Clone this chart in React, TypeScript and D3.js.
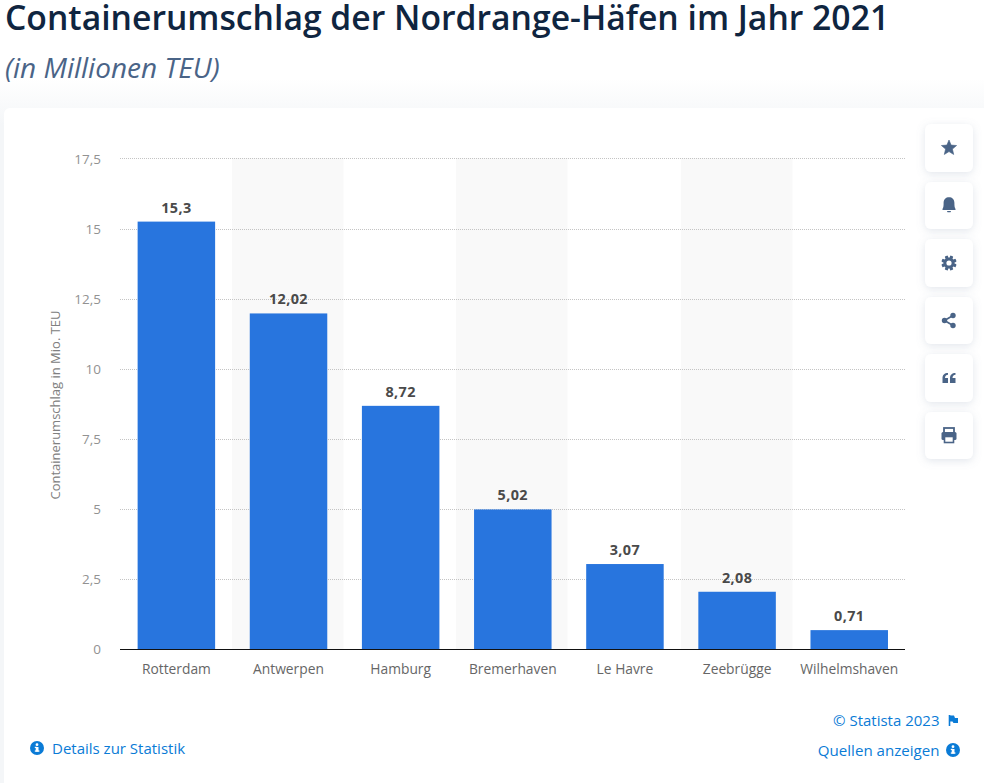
import React from "react";
import * as d3 from "d3";

const categories = ["Rotterdam", "Antwerpen", "Hamburg", "Bremerhaven", "Le Havre", "Zeebrügge", "Wilhelmshaven"];
const values = [15.3, 12.02, 8.72, 5.02, 3.07, 2.08, 0.71];
const valueLabels = ["15,3", "12,02", "8,72", "5,02", "3,07", "2,08", "0,71"];
const yTicks = [0, 2.5, 5, 7.5, 10, 12.5, 15, 17.5];
const yTickLabels = ["0", "2,5", "5", "7,5", "10", "12,5", "15", "17,5"];

const font = "'Open Sans', sans-serif";
const iconColor = "#4a6487";
const linkColor = "#0a7bd6";

const X0 = 120, X1 = 905, Y0 = 650, Y1 = 160;

function Info({ x, y }: { x: number; y: number }) {
  return (
    <g transform={`translate(${x},${y})`}>
      <circle r={7} fill={linkColor} />
      <rect x={-1.3} y={-1} width={2.8} height={4.6} fill="#fff" />
      <rect x={-2.2} y={2.4} width={4.6} height={1.3} fill="#fff" />
      <rect x={-2.2} y={-1.2} width={2} height={1.2} fill="#fff" />
      <circle cx={0} cy={-3.3} r={1.4} fill="#fff" />
    </g>
  );
}

const iconButtons = [
  { y: 124, h: 48 }, { y: 182, h: 47 }, { y: 239, h: 48 },
  { y: 297, h: 47 }, { y: 354, h: 48 }, { y: 412, h: 47 },
];

function Icon({ i }: { i: number }) {
  const f = iconColor;
  switch (i) {
    case 0: {
      const pts = d3.range(10).map((k) => {
        const r = k % 2 === 0 ? 8 : 3.6;
        const a = (k * Math.PI) / 5 - Math.PI / 2;
        return [r * Math.cos(a), r * Math.sin(a)].join(",");
      }).join(" ");
      return <polygon points={pts} fill={f} stroke={f} strokeWidth={0.6} strokeLinejoin="round" />;
    }
    case 1:
      return (
        <g fill={f} transform="translate(0,-1)">
          <path d="M-6.5,4.5 C-5.5,3 -5.4,1 -5.4,-1.5 C-5.4,-5.2 -3,-7.2 0,-7.2 C3,-7.2 5.4,-5.2 5.4,-1.5 C5.4,1 5.5,3 6.5,4.5 L6.5,5.6 L-6.5,5.6 Z" />
          <rect x={-2} y={6.4} width={4} height={1.4} rx={0.7} />
        </g>
      );
    case 2: {
      const teeth = d3.range(8).map((k) => (
        <rect key={k} x={-1.6} y={-7.6} width={3.2} height={3} rx={0.8} fill={f} transform={`rotate(${k * 45 + 22.5})`} />
      ));
      return (
        <g>
          {teeth}
          <circle r={4.1} fill="none" stroke={f} strokeWidth={3} />
        </g>
      );
    }
    case 3:
      return (
        <g fill={f} stroke={f}>
          <line x1={-4.5} y1={0} x2={4} y2={-5} strokeWidth={1.6} />
          <line x1={-4.5} y1={0} x2={4} y2={5} strokeWidth={1.6} />
          <circle cx={-4.5} cy={0} r={2.7} stroke="none" />
          <circle cx={4} cy={-5} r={2.7} stroke="none" />
          <circle cx={4} cy={5} r={2.7} stroke="none" />
        </g>
      );
    case 4:
      return (
        <g fill={f}>
          <path d="M-6.5,5 L-1,5 L-1,0 L-4,0 C-4,-2 -3,-3 -1,-3.2 L-1,-5 C-4.5,-5 -6.5,-3 -6.5,0 Z" />
          <path d="M1,5 L6.5,5 L6.5,0 L3.5,0 C3.5,-2 4.5,-3 6.5,-3.2 L6.5,-5 C3,-5 1,-3 1,0 Z" />
        </g>
      );
    default:
      return (
        <g>
          <rect x={-5} y={-7.5} width={10} height={5} fill="none" stroke={f} strokeWidth={1.8} />
          <rect x={-7.5} y={-3.5} width={15} height={8} rx={1.5} fill={f} />
          <rect x={-4.5} y={1} width={9} height={6} fill="#fff" stroke={f} strokeWidth={1.6} />
        </g>
      );
  }
}

export default function App() {
  const x = d3.scaleBand<string>().domain(categories).range([X0, X1]).paddingInner(0).paddingOuter(0);
  const y = d3.scaleLinear().domain([0, 17.5]).range([Y0, Y1]);
  const barW = 77.5;
  // gridlines sit on the half pixel above the value; the top one is one pixel higher in the reference
  const gridY = (t: number) => y(t) - 0.5 - (t === 17.5 ? 1 : 0);

  return (
    <svg width={984} height={783} style={{ position: "fixed", left: 0, top: 0 }} fontFamily={font}>
      <defs>
        <linearGradient id="pageBg" x1="0" y1="0" x2="0" y2="1">
          <stop offset="0" stopColor="#ffffff" />
          <stop offset="0.1" stopColor="#ffffff" />
          <stop offset="0.16" stopColor="#f4f6f8" />
          <stop offset="1" stopColor="#f4f6f8" />
        </linearGradient>
        <filter id="btnShadow" x="-30%" y="-30%" width="160%" height="160%">
          <feDropShadow dx="0" dy="2" stdDeviation="4" floodColor="#7d8ea8" floodOpacity="0.22" />
        </filter>
      </defs>
      <rect width={984} height={783} fill="url(#pageBg)" />
      <rect x={4} y={108} width={1000} height={700} rx={6} fill="#fff" />

      <text x={5} y={30} fontSize={33.7} fontWeight={600} fill="#0f2540">Containerumschlag der Nordrange-Häfen im Jahr 2021</text>
      <text x={5} y={78} fontSize={28} fontStyle="italic" fill="#4a6487">(in Millionen TEU)</text>

      {categories.map((c, i) => i % 2 === 1 && (
        <rect key={c} x={Math.round(x(c)!)} y={158} width={111.5} height={Y0 - 158} fill="#f9f9f9" />
      ))}

      {yTicks.map((t, i) => (
        <g key={t}>
          {t > 0 && <line x1={X0} x2={X1} y1={gridY(t)} y2={gridY(t)} stroke="#c4c4c4" strokeWidth={1} strokeDasharray="1 1" />}
          <text x={101} y={y(t) + 4} textAnchor="end" fontSize={13.5} fill="#929292">{yTickLabels[i]}</text>
        </g>
      ))}

      {categories.map((c, i) => {
        const cx = x(c)! + x.bandwidth() / 2 + 0.3;
        return (
          <g key={c}>
            <rect x={cx - barW / 2} y={y(values[i])} width={barW} height={Y0 - y(values[i])} fill="#2875de" />
            <text x={cx} y={y(values[i]) - 9} textAnchor="middle" fontSize={14.4} fontWeight={700} letterSpacing={0.4} fill="#4a4a4a">{valueLabels[i]}</text>
            <text x={cx} y={674} textAnchor="middle" fontSize={13.8} fill="#666666">{c}</text>
          </g>
        );
      })}

      <line x1={X0} x2={X1} y1={649.5} y2={649.5} stroke="#111" strokeWidth={1} />

      <text transform="translate(60,405) rotate(-90)" textAnchor="middle" fontSize={13} fill="#808080">Containerumschlag in Mio. TEU</text>

      {iconButtons.map((b, i) => (
        <g key={i}>
          <rect x={925} y={b.y} width={48} height={b.h} rx={6} fill="#fff" filter="url(#btnShadow)" />
          <g transform={`translate(949,${b.y + b.h / 2})`}><Icon i={i} /></g>
        </g>
      ))}

      <Info x={37} y={748} />
      <text x={52} y={754} fontSize={15} fill={linkColor}>Details zur Statistik</text>

      <text x={939.5} y={726} textAnchor="end" fontSize={15} fill={linkColor}>© Statista 2023</text>
      <path d="M949.5,715 L949.5,726" stroke={linkColor} strokeWidth={1.6} fill="none" />
      <path d="M950,715.5 L954,715.5 L955,718 L958,718 L958,723 L953.5,723 L952.5,721.5 L950,721.5 Z" fill={linkColor} />
      <text x={939.5} y={756} textAnchor="end" fontSize={15.1} fill={linkColor}>Quellen anzeigen</text>
      <Info x={953} y={750} />
    </svg>
  );
}
